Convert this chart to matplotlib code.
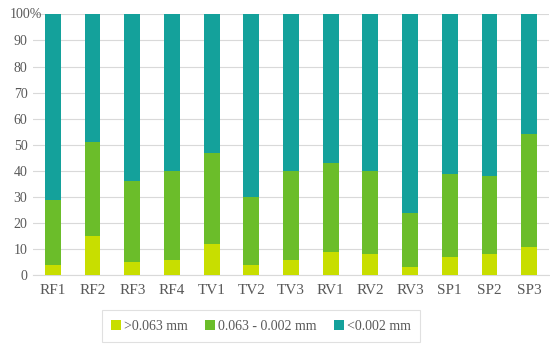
import matplotlib
matplotlib.use("Agg")
import matplotlib.pyplot as plt
import numpy as np

categories = ["RF1", "RF2", "RF3", "RF4", "TV1", "TV2", "TV3", "RV1", "RV2", "RV3", "SP1", "SP2", "SP3"]
coarse = [4, 15, 5, 6, 12, 4, 6, 9, 8, 3, 7, 8, 11]          # >0.063 mm
coarse_plus_mid = [29, 51, 36, 40, 47, 30, 40, 43, 40, 24, 39, 38, 54]
mid = [b - a for a, b in zip(coarse, coarse_plus_mid)]      # 0.063 - 0.002 mm
fine = [100 - b for b in coarse_plus_mid]                   # <0.002 mm
labels = [">0.063 mm", "0.063 - 0.002 mm", "<0.002 mm"]
colors = ["#c8de00", "#6bbd2a", "#14a19b"]
yticks = list(range(0, 101, 10))

plt.rcParams["font.family"] = ["Liberation Serif", "DejaVu Serif"]

fig = plt.figure(figsize=(5.5, 3.52), dpi=100)
ax = fig.add_axes([33/550, 76.7/352, (549-33)/550, (337.7-76.7)/352])

x = np.arange(len(categories))
w = 0.4
b1 = ax.bar(x, coarse, w, color=colors[0], label=labels[0], zorder=3)
b2 = ax.bar(x, mid, w, bottom=coarse, color=colors[1], label=labels[1], zorder=3)
b3 = ax.bar(x, fine, w, bottom=coarse_plus_mid, color=colors[2], label=labels[2], zorder=3)

ax.set_xlim(-0.5, len(categories) - 0.5)
ax.set_ylim(0, 100)
ax.set_yticks(yticks)
ax.set_yticklabels([str(v) if v < 100 else "" for v in yticks])
ax.text(-0.013, 100, "100%", transform=ax.get_yaxis_transform(),
        ha="center", va="center", fontsize=10, color="#595959")
ax.set_xticks(x)
ax.set_xticklabels(categories)
ax.yaxis.grid(True, color="#d9d9d9", linewidth=0.8, zorder=0)
ax.set_axisbelow(True)
for s in ["left", "right", "top"]:
    ax.spines[s].set_visible(False)
ax.spines["bottom"].set_color("#d9d9d9")
ax.tick_params(axis="both", length=0, labelsize=10, colors="#595959")
ax.tick_params(axis="x", pad=6, labelsize=11)
ax.tick_params(axis="y", pad=4)

leg = fig.legend(handles=[b1, b2, b3], labels=labels, loc="center",
                 bbox_to_anchor=(261/550, 1 - 326/352), ncol=3, frameon=True,
                 fontsize=10, handlelength=0.7, handleheight=0.7, handletextpad=0.2,
                 columnspacing=1.3, borderpad=0.65, fancybox=False)
leg.get_frame().set_edgecolor("#d9d9d9")
leg.get_frame().set_linewidth(0.8)
for t in leg.get_texts():
    t.set_color("#595959")

fig.savefig("out.png", dpi=100)
